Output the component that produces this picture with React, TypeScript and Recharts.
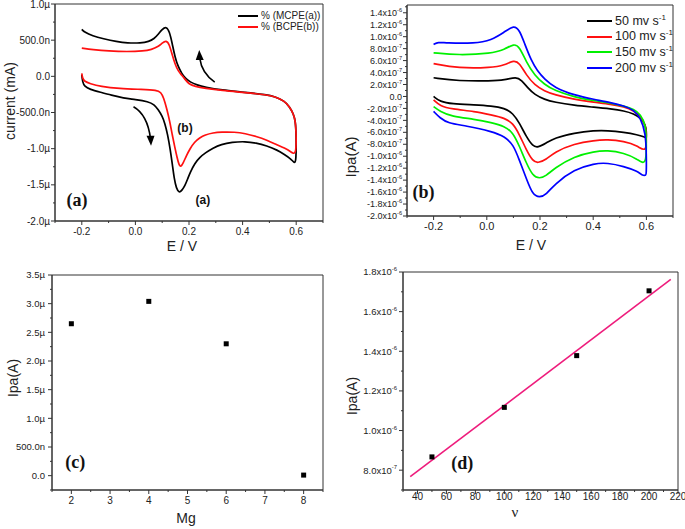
import React from "react";
import {
  ComposedChart,
  Line,
  Scatter,
  XAxis,
  YAxis,
  ReferenceArea,
  ReferenceDot,
} from "recharts";

type Pt = [number, number];

// (a) cyclic voltammograms, E in V, current in µA
const aMcpeFwd: Pt[] = [
  [-0.2, 0.02], [-0.197, -0.08], [-0.19, -0.14], [-0.17, -0.18], [-0.13, -0.22],
  [-0.09, -0.26], [-0.045, -0.3], [0.0, -0.32], [0.048, -0.35], [0.07, -0.39],
  [0.085, -0.46], [0.1, -0.55], [0.11, -0.65], [0.12, -0.8], [0.13, -1.01],
  [0.138, -1.22], [0.145, -1.42], [0.153, -1.55], [0.163, -1.61], [0.173, -1.58],
  [0.185, -1.51], [0.195, -1.42], [0.204, -1.33], [0.222, -1.2], [0.24, -1.12],
  [0.26, -1.06], [0.29, -0.99], [0.32, -0.94], [0.36, -0.91], [0.41, -0.9],
  [0.45, -0.92], [0.49, -0.96], [0.53, -1.02], [0.556, -1.08], [0.58, -1.14],
  [0.593, -1.2], [0.6, -1.18],
];
const aMcpeRev: Pt[] = [
  [0.6, -0.8], [0.597, -0.62], [0.59, -0.52], [0.575, -0.42], [0.556, -0.34],
  [0.52, -0.28], [0.49, -0.255], [0.41, -0.22], [0.32, -0.19], [0.26, -0.15],
  [0.23, -0.12], [0.204, -0.08], [0.185, -0.02], [0.173, 0.04], [0.16, 0.13],
  [0.148, 0.26], [0.137, 0.46], [0.127, 0.62], [0.115, 0.69], [0.1, 0.65],
  [0.085, 0.58], [0.07, 0.52], [0.05, 0.48], [0.02, 0.46], [-0.03, 0.46],
  [-0.07, 0.48], [-0.12, 0.52], [-0.16, 0.56], [-0.19, 0.61], [-0.2, 0.65],
];
const aBcpeFwd: Pt[] = [
  [-0.2, 0.04], [-0.197, -0.03], [-0.19, -0.07], [-0.17, -0.1], [-0.13, -0.14],
  [-0.06, -0.17], [0.026, -0.18], [0.08, -0.19], [0.095, -0.22], [0.105, -0.29],
  [0.118, -0.46], [0.128, -0.62], [0.137, -0.8], [0.147, -0.98], [0.156, -1.13],
  [0.163, -1.23], [0.17, -1.25], [0.178, -1.2], [0.19, -1.1], [0.204, -1.0],
  [0.22, -0.91], [0.24, -0.85], [0.26, -0.81], [0.29, -0.78], [0.32, -0.77],
  [0.37, -0.77], [0.41, -0.79], [0.45, -0.83], [0.49, -0.88], [0.53, -0.95],
  [0.556, -0.99], [0.58, -1.04], [0.6, -1.1],
];
const aBcpeRev: Pt[] = [
  [0.6, -0.8], [0.597, -0.62], [0.59, -0.52], [0.575, -0.42], [0.556, -0.34],
  [0.52, -0.28], [0.49, -0.255], [0.41, -0.225], [0.32, -0.195], [0.26, -0.165],
  [0.222, -0.14], [0.2, -0.11], [0.185, -0.04], [0.172, 0.02], [0.16, 0.07],
  [0.148, 0.17], [0.137, 0.3], [0.127, 0.44], [0.115, 0.5], [0.1, 0.46],
  [0.085, 0.41], [0.06, 0.37], [0.03, 0.35], [-0.03, 0.34], [-0.1, 0.35],
  [-0.16, 0.37], [-0.2, 0.39],
];
const aXMajor = [-0.2, 0, 0.2, 0.4, 0.6];
const aXMinor = [-0.3, -0.1, 0.1, 0.3, 0.5, 0.7];
const aYMajor = [-2, -1.5, -1, -0.5, 0, 0.5, 1];
const aYMinor = [-1.75, -1.25, -0.75, -0.25, 0.25, 0.75];
const aLegend = ["% (MCPE(a))", "% (BCPE(b))"];

// (b) scan rates, current in units of 1e-7 A
const bRates = ["50", "100", "150", "200"];
const b50Fwd: Pt[] = [
  [-0.2, 0.0], [-0.176, -0.86], [-0.132, -1.25], [-0.045, -1.4], [0.017, -1.58],
  [0.067, -1.97], [0.098, -2.8], [0.123, -4.46], [0.148, -6.7], [0.173, -8.35],
  [0.192, -8.55], [0.223, -7.8], [0.254, -6.95], [0.329, -6.1], [0.404, -5.7],
  [0.453, -5.7], [0.516, -6.0], [0.566, -6.4], [0.597, -6.8], [0.6, -7.1],
];
const b50Rev: Pt[] = [
  [0.6, -5.86], [0.597, -4.74], [0.578, -3.6], [0.553, -2.9], [0.516, -2.4],
  [0.466, -2.08], [0.404, -1.8], [0.329, -1.5], [0.254, -0.95], [0.217, -0.5],
  [0.18, 0.3], [0.155, 1.4], [0.13, 2.75], [0.111, 3.3], [0.067, 2.75],
  [0.017, 2.58], [-0.107, 2.58], [-0.2, 3.13],
];
const b100Fwd: Pt[] = [
  [-0.2, -0.58], [-0.176, -1.58], [-0.132, -2.1], [-0.045, -2.5], [0.017, -3.1],
  [0.067, -3.6], [0.098, -4.46], [0.123, -6.4], [0.148, -8.9], [0.173, -10.85],
  [0.192, -11.15], [0.223, -10.6], [0.254, -9.3], [0.329, -7.9], [0.404, -7.35],
  [0.453, -7.2], [0.516, -7.5], [0.566, -8.2], [0.6, -9.45],
];
const b100Rev: Pt[] = [
  [0.6, -6.7], [0.597, -4.7], [0.578, -3.36], [0.553, -2.36], [0.516, -1.7],
  [0.466, -1.3], [0.404, -0.97], [0.329, -0.5], [0.254, 0.3], [0.217, 0.9],
  [0.18, 1.9], [0.148, 3.6], [0.123, 5.6], [0.102, 6.07], [0.067, 5.24],
  [0.017, 4.8], [-0.107, 4.7], [-0.2, 5.5],
];
const b150Fwd: Pt[] = [
  [-0.2, -1.7], [-0.176, -2.5], [-0.132, -3.36], [-0.045, -3.8], [0.017, -4.36],
  [0.067, -5.0], [0.098, -6.0], [0.123, -8.35], [0.148, -11.1], [0.173, -13.3],
  [0.198, -13.75], [0.223, -13.3], [0.254, -12.0], [0.329, -10.0], [0.404, -9.2],
  [0.453, -9.0], [0.516, -9.45], [0.566, -10.45], [0.6, -11.7],
];
const b150Rev: Pt[] = [
  [0.6, -7.5], [0.597, -4.7], [0.578, -3.0], [0.553, -2.1], [0.516, -1.6],
  [0.466, -1.14], [0.404, -0.7], [0.329, -0.1], [0.254, 1.0], [0.217, 2.0],
  [0.18, 3.5], [0.148, 5.8], [0.123, 8.3], [0.102, 8.85], [0.067, 7.85],
  [0.017, 7.2], [-0.107, 6.9], [-0.2, 7.3],
];
const b200Fwd: Pt[] = [
  [-0.2, -2.5], [-0.176, -3.6], [-0.146, -4.46], [-0.08, -4.9], [0.02, -5.86],
  [0.067, -6.7], [0.1, -8.07], [0.122, -10.6], [0.15, -13.9], [0.172, -16.4],
  [0.198, -16.95], [0.224, -16.4], [0.254, -14.7], [0.329, -12.2], [0.404, -11.2],
  [0.453, -11.1], [0.516, -11.7], [0.566, -12.5], [0.584, -13.2], [0.597, -13.2],
  [0.6, -13.1],
];
const b200Rev: Pt[] = [
  [0.6, -9.7], [0.597, -6.1], [0.578, -3.6], [0.553, -2.25], [0.516, -1.58],
  [0.466, -1.03], [0.404, -0.5], [0.329, 0.2], [0.254, 1.5], [0.217, 2.9],
  [0.19, 4.3], [0.167, 6.0], [0.142, 8.85], [0.123, 11.1], [0.102, 11.9],
  [0.067, 10.8], [0.017, 9.4], [-0.045, 8.85], [-0.157, 8.95], [-0.183, 9.1],
  [-0.2, 8.7],
];
const bYMajor = [-20, -18, -16, -14, -12, -10, -8, -6, -4, -2, 0, 2, 4, 6, 8, 10, 12, 14];
const bYMinor = [-19, -17, -15, -13, -11, -9, -7, -5, -3, -1, 1, 3, 5, 7, 9, 11, 13, 15];

// (c) Ipa vs Mg content, µA
const cMg = [2, 4, 6, 8];
const cIpa = [2.65, 3.04, 2.3, 0.01];
const cXMajor = [2, 3, 4, 5, 6, 7, 8];
const cXMinor = [1.5, 2.5, 3.5, 4.5, 5.5, 6.5, 7.5, 8.5];
const cYMajor = [0, 0.5, 1, 1.5, 2, 2.5, 3, 3.5];
const cYMinor = [-0.25, 0.25, 0.75, 1.25, 1.75, 2.25, 2.75, 3.25];

// (d) Ipa vs scan rate, 1e-7 A
const dRate = [50, 100, 150, 200];
const dIpa = [8.67, 11.17, 13.78, 17.05];
const dFitX = [35, 215];
const dFitY = [7.67, 17.63];
const dXMajor = [40, 60, 80, 100, 120, 140, 160, 180, 200, 220];
const dXMinor = [30, 50, 70, 90, 110, 130, 150, 170, 190, 210];
const dYMajor = [8, 10, 12, 14, 16, 18];
const dYMinor = [7, 9, 11, 13, 15, 17];

const SANS = '"Liberation Sans", Arial, sans-serif';
const SERIF = '"Liberation Serif", "Times New Roman", serif';
const AXIS = "#333";
const BLACK = "#000000";
const RED = "#ff1010";
const GREEN = "#00f000";
const BLUE = "#0000ff";
const PINK = "#ee1c7c";
const bColors = [BLACK, RED, GREEN, BLUE];

const toPts = (arr: Pt[]) => arr.map(([x, y]) => ({ x, y }));
const zip = (xs: number[], ys: number[]) => xs.map((x, i) => ({ x, y: ys[i] }));
const near = (a: number, b: number) => Math.abs(a - b) < 1e-6;

const fmtMicro = (v: number) => {
  if (near(v, 0)) return "0.0";
  if (Math.abs(v) < 1) return (v * 1000).toFixed(1) + "n";
  return v.toFixed(1) + "\u00b5";
};

const fmtSci = (v: number, fs: number) => {
  if (near(v, 0)) return "0.0";
  const big = Math.abs(v) >= 10;
  const mant = big ? v / 10 : v;
  return (
    <>
      {mant.toFixed(1)}x10
      <tspan dy={-fs * 0.45} fontSize={fs * 0.62}>
        {big ? "-6" : "-7"}
      </tspan>
    </>
  );
};

const leftTick =
  (majors: number[], label: (v: number, fs: number) => React.ReactNode, fs: number, gap: number) =>
  (p: any) => {
    const v = p.payload.value;
    const major = majors.some((m) => near(m, v));
    return (
      <g>
        <line x1={p.x} x2={p.x - (major ? 4 : 2)} y1={p.y} y2={p.y} stroke={AXIS} />
        {major && (
          <text x={p.x - gap} y={p.y} dy="0.35em" textAnchor="end" fontSize={fs} fontFamily={SANS} fill="#222">
            {label(v, fs)}
          </text>
        )}
      </g>
    );
  };

const bottomTick =
  (majors: number[], label: (v: number) => string, fs: number, gap: number) =>
  (p: any) => {
    const v = p.payload.value;
    const major = majors.some((m) => near(m, v));
    return (
      <g>
        <line x1={p.x} x2={p.x} y1={p.y} y2={p.y + (major ? 4 : 2)} stroke={AXIS} />
        {major && (
          <text x={p.x} y={p.y + gap} dy="0.71em" textAnchor="middle" fontSize={fs} fontFamily={SANS} fill="#222">
            {label(v)}
          </text>
        )}
      </g>
    );
  };

const yTitle = (text: string, x: number, y: number, fs = 14) => ({
  content: () => (
    <text
      x={x}
      y={y}
      transform={`rotate(-90 ${x} ${y})`}
      textAnchor="middle"
      dominantBaseline="central"
      fontSize={fs}
      fontFamily={SANS}
      fill="#222"
    >
      {text}
    </text>
  ),
});

const xTitle = (text: string, x: number, y: number, fs = 14, family = SANS) => ({
  content: () => (
    <text x={x} y={y} textAnchor="middle" dominantBaseline="central" fontSize={fs} fontFamily={family} fill="#222">
      {text}
    </text>
  ),
});

const tag = (text: string, fs: number, family: string) => (p: any) =>
  (
    <text x={p.cx} y={p.cy} textAnchor="middle" dominantBaseline="central" fontSize={fs} fontWeight="bold" fontFamily={family} fill="#111">
      {text}
    </text>
  );

const arrowDown = (p: any) => (
  <g transform={`translate(${p.cx},${p.cy})`}>
    <path d="M0,0 Q14,8 17,32" fill="none" stroke="#000" strokeWidth={1.6} />
    <path d="M13,29 L21,29 L17.5,39 Z" fill="#000" />
  </g>
);

const arrowUp = (p: any) => (
  <g transform={`translate(${p.cx},${p.cy})`}>
    <path d="M0,0 Q-13,-9 -15,-24" fill="none" stroke="#000" strokeWidth={1.6} />
    <path d="M-19,-22 L-11,-22 L-15.5,-32 Z" fill="#000" />
  </g>
);

const square = (p: any) => <rect x={p.cx - 2.5} y={p.cy - 2.5} width={5} height={5} fill="#000" />;

const cvLine = (key: string, pts: Pt[], color: string) => (
  <Line
    key={key}
    data={toPts(pts)}
    dataKey="y"
    type="basis"
    stroke={color}
    strokeWidth={1.7}
    dot={false}
    activeDot={false}
    isAnimationActive={false}
  />
);

function PanelA() {
  return (
    <ComposedChart width={340} height={260} margin={{ top: 4, right: 17, bottom: 0, left: 0 }}>
      <XAxis
        type="number"
        dataKey="x"
        domain={[-0.3, 0.7]}
        ticks={[...aXMajor, ...aXMinor]}
        interval={0}
        height={39}
        tickSize={0}
        tickMargin={0}
        tickLine={false}
        axisLine={{ stroke: AXIS }}
        allowDataOverflow
        tick={bottomTick(aXMajor, (v) => v.toFixed(1), 10, 7)}
        label={xTitle("E / V", 182, 246)}
      />
      <YAxis
        type="number"
        dataKey="y"
        domain={[-2, 1]}
        ticks={[...aYMajor, ...aYMinor]}
        interval={0}
        width={55}
        tickSize={0}
        tickMargin={0}
        tickLine={false}
        axisLine={{ stroke: AXIS }}
        allowDataOverflow
        tick={leftTick(aYMajor, fmtMicro, 10, 5)}
        label={yTitle("current (mA)", 10, 101)}
      />
      <ReferenceArea x1={-0.3} x2={0.7} y1={-2} y2={1} fill="none" stroke={AXIS} />
      {cvLine("mf", [...aMcpeFwd, ...aMcpeRev], BLACK)}
      {cvLine("bf", [...aBcpeFwd, ...aBcpeRev], RED)}
      <ReferenceDot x={-0.218} y={-1.71} r={0} shape={tag("(a)", 18, SERIF)} />
      <ReferenceDot x={0.185} y={-0.71} r={0} shape={tag("(b)", 12, SANS)} />
      <ReferenceDot x={0.252} y={-1.71} r={0} shape={tag("(a)", 12, SANS)} />
      <ReferenceDot x={-0.007} y={-0.42} r={0} shape={arrowDown} />
      <ReferenceDot x={0.296} y={-0.08} r={0} shape={arrowUp} />
    </ComposedChart>
  );
}

function PanelB() {
  const series = [
    [...b50Fwd, ...b50Rev],
    [...b100Fwd, ...b100Rev],
    [...b150Fwd, ...b150Rev],
    [...b200Fwd, ...b200Rev],
  ];
  return (
    <ComposedChart width={345} height={260} margin={{ top: 5, right: 12, bottom: 0, left: 0 }}>
      <XAxis
        type="number"
        dataKey="x"
        domain={[-0.3, 0.7]}
        ticks={[...aXMajor, ...aXMinor]}
        interval={0}
        height={44}
        tickSize={0}
        tickMargin={0}
        tickLine={false}
        axisLine={{ stroke: AXIS }}
        allowDataOverflow
        tick={bottomTick(aXMajor, (v) => v.toFixed(1), 11, 6)}
        label={xTitle("E / V", 191, 245)}
      />
      <YAxis
        type="number"
        dataKey="y"
        domain={[-20, 15.3]}
        ticks={[...bYMajor, ...bYMinor]}
        interval={0}
        width={67}
        tickSize={0}
        tickMargin={0}
        tickLine={false}
        axisLine={{ stroke: AXIS }}
        allowDataOverflow
        tick={leftTick(bYMajor, fmtSci, 9, 5)}
        label={yTitle("Ipa(A)", 10, 157, 15)}
      />
      <ReferenceArea x1={-0.3} x2={0.7} y1={-20} y2={15.3} fill="none" stroke={AXIS} />
      {series.map((s, i) => cvLine("b" + i, s, bColors[i]))}
      <ReferenceDot x={-0.238} y={-16} r={0} shape={tag("(b)", 18, SERIF)} />
    </ComposedChart>
  );
}

function PanelC() {
  return (
    <ComposedChart width={340} height={269} margin={{ top: 15, right: 17, bottom: 0, left: 0 }}>
      <XAxis
        type="number"
        dataKey="x"
        domain={[1.5, 8.5]}
        ticks={[...cXMajor, ...cXMinor]}
        interval={0}
        height={39}
        tickSize={0}
        tickMargin={0}
        tickLine={false}
        axisLine={{ stroke: AXIS }}
        allowDataOverflow
        tick={bottomTick(cXMajor, (v) => String(v), 10, 7)}
        label={xTitle("Mg", 186, 258)}
      />
      <YAxis
        type="number"
        dataKey="y"
        domain={[-0.25, 3.5]}
        ticks={[...cYMajor, ...cYMinor]}
        interval={0}
        width={52}
        tickSize={0}
        tickMargin={0}
        tickLine={false}
        axisLine={{ stroke: AXIS }}
        allowDataOverflow
        tick={leftTick(cYMajor, fmtMicro, 9.5, 7)}
        label={yTitle("Ipa(A)", 13, 118)}
      />
      <ReferenceArea x1={1.5} x2={8.5} y1={-0.25} y2={3.5} fill="none" stroke={AXIS} />
      <Scatter data={zip(cMg, cIpa)} shape={square} isAnimationActive={false} />
      <ReferenceDot x={2.1} y={0.23} r={0} shape={tag("(c)", 18, SERIF)} />
    </ComposedChart>
  );
}

function PanelD() {
  return (
    <ComposedChart width={345} height={269} margin={{ top: 12, right: 7, bottom: 0, left: 0 }}>
      <XAxis
        type="number"
        dataKey="x"
        domain={[30, 220]}
        ticks={[...dXMajor, ...dXMinor]}
        interval={0}
        height={39}
        tickSize={0}
        tickMargin={0}
        tickLine={false}
        axisLine={{ stroke: AXIS }}
        allowDataOverflow
        tick={bottomTick(dXMajor, (v) => String(v), 10, 3)}
        label={xTitle("\u03bd", 175, 252, 15, SERIF)}
      />
      <YAxis
        type="number"
        dataKey="y"
        domain={[7, 18]}
        ticks={[...dYMajor, ...dYMinor]}
        interval={0}
        width={63}
        tickSize={0}
        tickMargin={0}
        tickLine={false}
        axisLine={{ stroke: AXIS }}
        allowDataOverflow
        tick={leftTick(dYMajor, fmtSci, 9.5, 6)}
        label={yTitle("Ipa(A)", 12, 136)}
      />
      <ReferenceArea x1={30} x2={220} y1={7} y2={18} fill="none" stroke={AXIS} />
      <Line
        data={zip(dFitX, dFitY)}
        dataKey="y"
        type="linear"
        stroke={PINK}
        strokeWidth={1.6}
        dot={false}
        activeDot={false}
        isAnimationActive={false}
      />
      <Scatter data={zip(dRate, dIpa)} shape={square} isAnimationActive={false} />
      <ReferenceDot x={71} y={8.35} r={0} shape={tag("(d)", 18, SERIF)} />
    </ComposedChart>
  );
}

function LegendBox({
  left,
  top,
  rowH,
  fs,
  lineW,
  items,
}: {
  left: number;
  top: number;
  rowH: number;
  fs: number;
  lineW: number;
  items: { color: string; label: React.ReactNode }[];
}) {
  return (
    <div style={{ position: "absolute", left, top, fontFamily: SANS, fontSize: fs, color: "#222" }}>
      {items.map((it, i) => (
        <div key={i} style={{ display: "flex", alignItems: "center", height: rowH, whiteSpace: "nowrap" }}>
          <span style={{ display: "inline-block", width: lineW, borderTop: `2px solid ${it.color}`, marginRight: 3 }} />
          <span style={{ lineHeight: 1 }}>{it.label}</span>
        </div>
      ))}
    </div>
  );
}

export default function App() {
  return (
    <div style={{ position: "absolute", left: 0, top: 0, width: 685, height: 529, background: "#fff" }}>
      <div style={{ position: "absolute", left: 0, top: 0 }}>
        <PanelA />
      </div>
      <div style={{ position: "absolute", left: 340, top: 0 }}>
        <PanelB />
      </div>
      <div style={{ position: "absolute", left: 0, top: 260 }}>
        <PanelC />
      </div>
      <div style={{ position: "absolute", left: 340, top: 260 }}>
        <PanelD />
      </div>
      <LegendBox
        left={238}
        top={10}
        rowH={11}
        fs={10}
        lineW={20}
        items={aLegend.map((l, i) => ({ color: i === 0 ? BLACK : RED, label: l }))}
      />
      <LegendBox
        left={587}
        top={13}
        rowH={15.7}
        fs={12.5}
        lineW={25}
        items={bRates.map((r, i) => ({
          color: bColors[i],
          label: (
            <>
              {r} mv s<span style={{ fontSize: 8, verticalAlign: "top", lineHeight: 0.8 }}>-1</span>
            </>
          ),
        }))}
      />
    </div>
  );
}
